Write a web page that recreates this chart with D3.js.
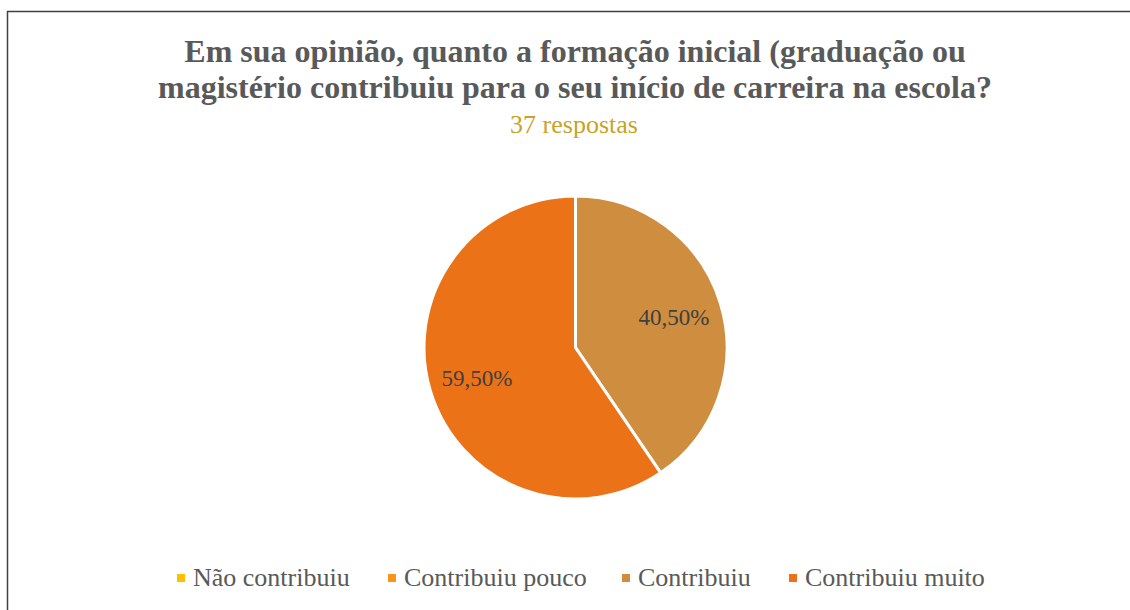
<!DOCTYPE html>
<html><head><meta charset="utf-8">
<script src="https://cdn.jsdelivr.net/npm/d3@7"></script>
<style>body{margin:0;background:#fff}svg{display:block}</style>
</head><body>
<script>
const categories = ["Não contribuiu", "Contribuiu pouco", "Contribuiu", "Contribuiu muito"];
const values = [0, 0, 40.5, 59.5];
const labels = ["0,00%", "0,00%", "40,50%", "59,50%"];
const colors = ["#FFC000", "#F7941D", "#CF8D3F", "#EC7218"];
const titleLines = ["Em sua opinião, quanto a formação inicial (graduação ou", "magistério contribuiu para o seu início de carreira na escola?"];
const subtitle = "37 respostas";

const W = 1130, H = 610;
const svg = d3.select("body").append("svg").attr("width", W).attr("height", H);
svg.append("rect").attr("width", W).attr("height", H).attr("fill", "#fff");
svg.append("path").attr("d", `M7.5,${H} V11.5 H${W}`).attr("fill", "none").attr("stroke", "#404040").attr("stroke-width", 1.5);

const font = "'Liberation Serif','DejaVu Serif',serif";
svg.selectAll("text.title").data(titleLines).join("text")
  .attr("class", "title")
  .attr("x", 575).attr("y", (d, i) => 62 + i * 36)
  .attr("text-anchor", "middle")
  .attr("font-family", font).attr("font-weight", "bold").attr("font-size", 32)
  .attr("fill", "#595959").text(d => d);
svg.append("text").attr("x", 574).attr("y", 133).attr("text-anchor", "middle")
  .attr("font-family", font).attr("font-size", 26).attr("fill", "#C9A227").text(subtitle);

const cx = 575.5, cy = 347.5, r = 151.5;
const data = categories.map((c, i) => ({ c, v: values[i], l: labels[i], col: colors[i] }));
const pie = d3.pie().value(d => d.v).sort(null);
const arcs = pie(data);
const arc = d3.arc().innerRadius(0).outerRadius(r);
const labelArc = d3.arc().innerRadius(r * 0.68).outerRadius(r * 0.68);
const g = svg.append("g").attr("transform", `translate(${cx},${cy})`);
g.selectAll("path").data(arcs.filter(a => a.data.v > 0)).join("path")
  .attr("d", arc).attr("fill", d => d.data.col)
  .attr("stroke", "#fff").attr("stroke-width", 3).attr("stroke-linejoin", "miter");
g.selectAll("text").data(arcs.filter(a => a.data.v > 0)).join("text")
  .attr("transform", d => `translate(${labelArc.centroid(d)})`)
  .attr("text-anchor", "middle").attr("dy", "0.35em")
  .attr("font-family", font).attr("font-size", 23).attr("fill", "#404040")
  .text(d => d.data.l);

// legend
const legX = [177, 388, 622, 789];
const lg = svg.append("g");
const items = lg.selectAll("g").data(data).join("g")
  .attr("transform", (d, i) => `translate(${legX[i]},586)`);
items.append("rect").attr("x", 0).attr("y", -12).attr("width", 8).attr("height", 8).attr("fill", d => d.col);
items.append("text").attr("x", 16).attr("y", 0)
  .attr("font-family", font).attr("font-size", 26).attr("fill", "#595959").text(d => d.c);
</script>
</body></html>
